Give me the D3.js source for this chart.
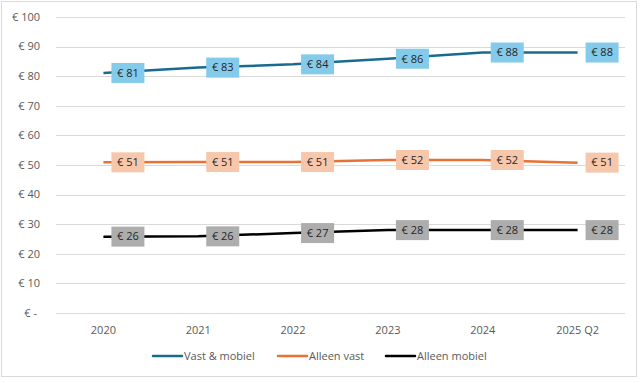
<!DOCTYPE html>
<html>
<head>
<meta charset="utf-8">
<script src="https://cdn.jsdelivr.net/npm/d3@7"></script>
<style>
  body { margin: 0; background: #fff; }
  svg text { font-family: "Open Sans", "Noto Sans", sans-serif; }
</style>
</head>
<body>
<div id="chart"></div>
<script>
const categories = ["2020", "2021", "2022", "2023", "2024", "2025 Q2"];
const vastMobiel = [81.1, 82.9, 84.0, 85.9, 88.0, 88.0];
const alleenVast = [50.9, 51.0, 51.0, 51.7, 51.7, 50.8];
const alleenMobiel = [25.8, 25.9, 27.0, 28.0, 28.0, 28.0];
const yTicks = [0, 10, 20, 30, 40, 50, 60, 70, 80, 90, 100];

const series = [
  { name: "Vast & mobiel", values: vastMobiel, line: "#196B8E", box: "#84CAEA" },
  { name: "Alleen vast", values: alleenVast, line: "#E97132", box: "#F7C7AC" },
  { name: "Alleen mobiel", values: alleenMobiel, line: "#000000", box: "#ADADAD" }
];

const width = 643, height = 383;
const margins = { left: 56, right: 18, top: 17, bottom: 70 };

const svg = d3.select("#chart").append("svg")
  .attr("width", width).attr("height", height);

// chart border
svg.append("rect")
  .attr("x", 1.5).attr("y", 1.5)
  .attr("width", 635).attr("height", 375)
  .attr("fill", "#fff").attr("stroke", "#D9D9D9");

const xScale = d3.scaleBand()
  .domain(categories)
  .range([margins.left, width - margins.right]);

const yScale = d3.scaleLinear()
  .domain([0, 100])
  .range([height - margins.bottom, margins.top]);

// gridlines
svg.append("g").selectAll("line").data(yTicks).join("line")
  .attr("x1", margins.left).attr("x2", width - margins.right)
  .attr("y1", d => Math.round(yScale(d)) + 0.5)
  .attr("y2", d => Math.round(yScale(d)) + 0.5)
  .attr("stroke", "#D9D9D9").attr("stroke-width", 1);

// y axis labels
const fmtY = d => d === 0 ? "€ -" : `€ ${d}`;
svg.append("g").selectAll("text").data(yTicks).join("text")
  .attr("x", d => d === 0 ? 37 : 40)
  .attr("y", d => yScale(d))
  .attr("dy", "0.35em")
  .attr("text-anchor", "end")
  .attr("font-size", 11)
  .attr("fill", "#595959")
  .text(fmtY);

// x axis labels
svg.append("g").selectAll("text").data(categories).join("text")
  .attr("x", d => xScale(d) + xScale.bandwidth() / 2)
  .attr("y", 330)
  .attr("dy", "0.35em")
  .attr("text-anchor", "middle")
  .attr("font-size", 11)
  .attr("fill", "#595959")
  .text(d => d);

const cx = (d, i) => xScale(categories[i]) + xScale.bandwidth() / 2;
const line = d3.line()
  .x(cx)
  .y(d => yScale(d));

// lines
svg.append("g").selectAll("path").data(series).join("path")
  .attr("d", s => line(s.values))
  .attr("fill", "none")
  .attr("stroke", s => s.line)
  .attr("stroke-width", 2.5)
  .attr("stroke-linejoin", "round");

// data labels
const boxW = 33, boxH = 20;
series.forEach(s => {
  const g = svg.append("g");
  const lab = g.selectAll("g").data(s.values).join("g")
    .attr("transform", (d, i) => `translate(${cx(d, i) + 8},${yScale(d)})`);
  lab.append("rect")
    .attr("x", 0).attr("y", -boxH / 2)
    .attr("width", boxW).attr("height", boxH)
    .attr("fill", s.box);
  lab.append("text")
    .attr("x", boxW / 2).attr("y", 0)
    .attr("dy", "0.35em")
    .attr("text-anchor", "middle")
    .attr("font-size", 11)
    .attr("fill", "#262626")
    .text(d => `€ ${Math.round(d)}`);
});

// legend
const legendX = [153, 278, 386];
const legend = svg.append("g").selectAll("g").data(series).join("g")
  .attr("transform", (s, i) => `translate(${legendX[i]},356)`);
legend.append("line")
  .attr("x1", 0).attr("x2", 29)
  .attr("stroke", s => s.line)
  .attr("stroke-width", 2.5)
  .attr("stroke-linecap", "round");
legend.append("text")
  .attr("x", 31).attr("dy", "0.35em")
  .attr("font-size", 11)
  .attr("fill", "#595959")
  .text(s => s.name);
</script>
</body>
</html>
